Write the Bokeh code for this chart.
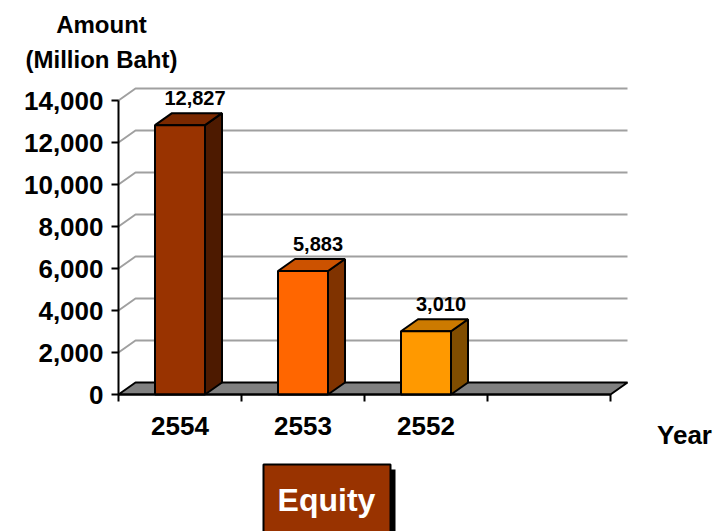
from bokeh.plotting import figure
from bokeh.models import Range1d, LinearAxis, FixedTicker, NumeralTickFormatter
from bokeh.core.properties import value
from bokeh.embed import file_html
from bokeh.resources import INLINE

# Equity amounts by Thai Buddhist-era year (million baht)
years = ["2554", "2553", "2552"]
amounts = [12827, 5883, 3010]
n_slots = 4  # one empty slot after the last year
y_ticks = [0, 2000, 4000, 6000, 8000, 10000, 12000, 14000]

front_colors = ["#993300", "#FF6600", "#FF9900"]
side_colors = ["#4D1A00", "#803300", "#804D00"]
top_colors = ["#7A2900", "#CC5200", "#CC7A00"]

W, H = 715, 531
ORIGIN_X, ORIGIN_Y = 118, 394       # pixel position of (slot 0, value 0)
PX_PER_SLOT = 123.0
PX_PER_UNIT = 294.0 / 14000.0

def sx(px):
    return px / PX_PER_SLOT

def sy(px):
    return px / PX_PER_UNIT

def at_x(px):
    return (px - ORIGIN_X) / PX_PER_SLOT

def at_y(px):
    return (ORIGIN_Y - px) / PX_PER_UNIT

DEPTH_X, DEPTH_Y = sx(17), sy(12)
BAR_W = sx(50)
FONT = "Liberation Sans"

p = figure(width=W, height=H, output_backend="svg", toolbar_location=None,
           x_range=Range1d(at_x(0), at_x(W)), y_range=Range1d(at_y(H), at_y(0)),
           x_axis_location=None, y_axis_location=None, min_border=0,
           outline_line_color=None)
p.grid.visible = False
p.background_fill_color = "white"

# back-wall gridlines with their diagonal lead-in from the axis
grid_vals = [v for v in y_ticks if v > 0]
p.multi_line(xs=[[0, DEPTH_X, n_slots + DEPTH_X] for _ in grid_vals],
             ys=[[v, v + DEPTH_Y, v + DEPTH_Y] for v in grid_vals],
             line_color="#A0A0A0", line_width=2)

# floor
p.patch([0, n_slots, n_slots + DEPTH_X, DEPTH_X], [0, 0, DEPTH_Y, DEPTH_Y],
        fill_color="#808080", line_color="black", line_width=2)

# 3-D bars
centers = [i + 0.5 for i in range(len(amounts))]
lefts = [c - BAR_W / 2 for c in centers]
rights = [c + BAR_W / 2 for c in centers]
p.patches(xs=[[r, r + DEPTH_X, r + DEPTH_X, r] for r in rights],
          ys=[[0, DEPTH_Y, v + DEPTH_Y, v] for v in amounts],
          fill_color=side_colors, line_color="black", line_width=2)
p.patches(xs=[[l, l + DEPTH_X, r + DEPTH_X, r] for l, r in zip(lefts, rights)],
          ys=[[v, v + DEPTH_Y, v + DEPTH_Y, v] for v in amounts],
          fill_color=top_colors, line_color="black", line_width=2)
p.quad(left=lefts, right=rights, bottom=0, top=amounts,
       fill_color=front_colors, line_color="black", line_width=2)

# value labels
p.text(x=[c + sx(15) for c in centers], y=[v + DEPTH_Y + sy(15) for v in amounts],
       text=[f"{v:,}" for v in amounts], text_align="center",
       text_baseline="alphabetic", text_font=value(FONT),
       text_font_style="bold", text_font_size="20px", text_color="black")

# value axis
yaxis = LinearAxis(fixed_location=0, bounds=(0, 14000),
                   ticker=FixedTicker(ticks=y_ticks),
                   formatter=NumeralTickFormatter(format="0,0"))
yaxis.axis_line_width = 2
yaxis.major_tick_line_width = 2
yaxis.major_tick_out = 7
yaxis.major_tick_in = 0
yaxis.minor_tick_out = 0
yaxis.minor_tick_in = 0
yaxis.major_label_standoff = 8
yaxis.major_label_text_font = FONT
yaxis.major_label_text_font_style = "bold"
yaxis.major_label_text_font_size = "26px"
yaxis.major_label_text_color = "black"
p.add_layout(yaxis, "left")

# slot boundary ticks along the floor edge
xaxis = LinearAxis(fixed_location=0, bounds=(0, n_slots),
                   ticker=FixedTicker(ticks=list(range(n_slots + 1))))
xaxis.axis_line_width = 2
xaxis.major_tick_line_width = 2
xaxis.major_tick_out = 7
xaxis.major_tick_in = 0
xaxis.minor_tick_out = 0
xaxis.minor_tick_in = 0
xaxis.major_label_text_color = None
p.add_layout(xaxis, "below")

# year labels under each slot
cat_axis = LinearAxis(fixed_location=0,
                      ticker=FixedTicker(ticks=centers),
                      major_label_overrides={c: y for c, y in zip(centers, years)})
cat_axis.axis_line_color = None
cat_axis.major_tick_line_color = None
cat_axis.minor_tick_line_color = None
cat_axis.major_tick_out = 0
cat_axis.major_label_standoff = 22
cat_axis.major_label_text_font = FONT
cat_axis.major_label_text_font_style = "bold"
cat_axis.major_label_text_font_size = "26px"
cat_axis.major_label_text_color = "black"
p.add_layout(cat_axis, "below")

# axis titles
bold = dict(text_font=value(FONT), text_font_style="bold", text_color="black",
            text_baseline="alphabetic")
p.text(x=[at_x(101)], y=[at_y(24)], text=["Amount"], text_align="center",
       text_font_size="24px", **bold)
p.text(x=[at_x(101)], y=[at_y(59)], text=["(Million Baht)"], text_align="center",
       text_font_size="24px", **bold)
p.text(x=[at_x(684)], y=[at_y(434)], text=["Year"], text_align="center",
       text_font_size="26px", **bold)

# series key box
p.quad(left=[at_x(268)], right=[at_x(395)], top=[at_y(469)], bottom=[at_y(H + 5)],
       fill_color="black", line_color=None)
p.quad(left=[at_x(263)], right=[at_x(390)], top=[at_y(464)], bottom=[at_y(H + 5)],
       fill_color="#993300", line_color="black", line_width=2)
p.text(x=[at_x(326)], y=[at_y(499)], text=["Equity"], text_align="center",
       text_font_size="32px", text_font=value(FONT), text_font_style="bold",
       text_color="white", text_baseline="alphabetic")

open("out.html", "w").write(file_html(p, INLINE))
